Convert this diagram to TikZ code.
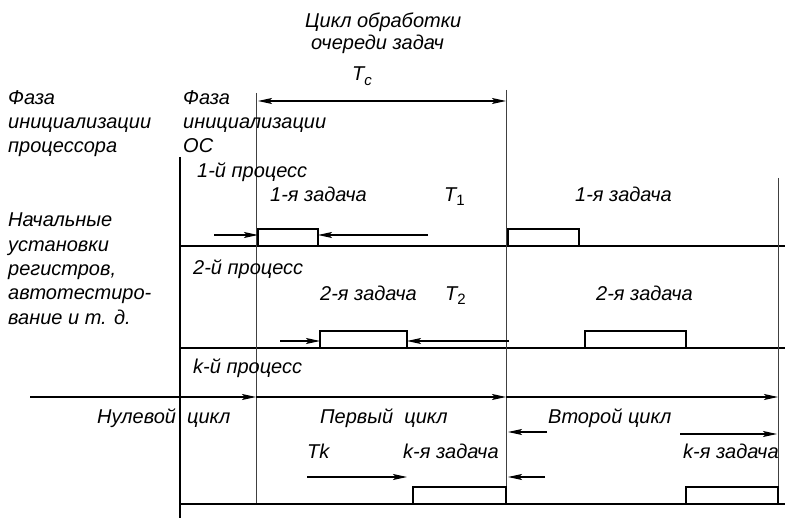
\documentclass[tikz,border=0pt]{standalone}
\usepackage{fontspec}
\setmainfont{Liberation Sans}
\usetikzlibrary{arrows.meta}
\begin{document}
\begin{tikzpicture}[x=1pt,y=-1pt,
  lbl/.style={inner sep=0pt, font=\fontsize{20}{24.3}\selectfont\itshape, anchor=base west},
  blk/.style={inner sep=0pt, font=\fontsize{20}{24.3}\selectfont\itshape, anchor=north west, align=left},
  axis/.style={line width=2.6pt},
  guide/.style={line width=0.7pt, black!75},
  taskbox/.style={draw, line width=2.6pt, inner sep=0pt, outer sep=0pt, anchor=south west, minimum height=17pt},
  tip/.tip={Stealth[length=14pt,width=6pt,inset=3pt]},
  arr/.style={line width=1.1pt, -tip},
  dblarr/.style={line width=1.1pt, tip-tip}
]
\useasboundingbox (0,0) rectangle (785,518);

% axes
\coordinate (v0t) at (180,157); \coordinate (v0b) at (180,518);
\coordinate (p1l) at (180,246); \coordinate (p1r) at (785,246);
\coordinate (p2l) at (180,348); \coordinate (p2r) at (785,348);
\coordinate (pkl) at (180,504); \coordinate (pkr) at (785,504);
\draw[axis] (v0t) -- (v0b);
\draw[axis] (p1l) -- (p1r);
\draw[axis] (p2l) -- (p2r);
\draw[axis] (pkl) -- (pkr);

% guides
\coordinate (g1t) at (256,93);  \coordinate (g1b) at (256,503);
\coordinate (g2t) at (506,90);  \coordinate (g2b) at (506,504);
\coordinate (g3t) at (778,178); \coordinate (g3b) at (778,504);
\draw[guide] (g1t) -- (g1b);
\draw[guide] (g2t) -- (g2b);
\draw[guide] (g3t) -- (g3b);

% task boxes
\node[taskbox, minimum width=60pt] (b11) at (258,246) {};
\node[taskbox, minimum width=71pt] (b12) at (508,246) {};
\node[taskbox, minimum width=87pt] (b21) at (320,348) {};
\node[taskbox, minimum width=101pt] (b22) at (585,348) {};
\node[taskbox, minimum width=93pt] (bk1) at (413,504) {};
\node[taskbox, minimum width=92pt] (bk2) at (686,504) {};

% Tc arrow
\coordinate (tca) at (258,101); \coordinate (tcb) at (506,101);
\draw[dblarr] (tca) -- (tcb);

% process 1 arrows
\coordinate (a1s) at (214,235);
\draw[arr] (a1s) -- (a1s -| b11.west);
\coordinate (a1e) at (428,235);
\draw[arr] (a1e) -- (a1e -| b11.east);
% process 2 arrows
\coordinate (a2s) at (280,341);
\draw[arr] (a2s) -- (a2s -| b21.west);
\coordinate (a2e) at (509,341);
\draw[arr] (a2e) -- (a2e -| b21.east);

% cycle line
\coordinate (c0) at (30,397); \coordinate (c1) at (256,397);
\coordinate (c2) at (506,397); \coordinate (c3) at (778,397);
\draw[arr] (c0) -- (c1);
\draw[arr] (c1) -- (c2);
\draw[arr] (c2) -- (c3);

% process k arrows
\coordinate (tks) at (307,477); \coordinate (tke) at (407,477);
\draw[arr] (tks) -- (tke);
\coordinate (l1s) at (547,432); \coordinate (l1e) at (508,432);
\draw[arr] (l1s) -- (l1e);
\coordinate (l2s) at (545,477); \coordinate (l2e) at (508,477);
\draw[arr] (l2s) -- (l2e);
\coordinate (r1s) at (680,434); \coordinate (r1e) at (777,434);
\draw[arr] (r1s) -- (r1e);

% labels
\node[lbl] (cyc1) at (305,28) {Цикл обработки};
\node[lbl] (cyc2) at (311,50) {очереди задач};
\node[lbl] (tc) at (352,81) {T\raisebox{-0.45ex}{\fontsize{15}{15}\selectfont c}};

\node[blk] (ph1) at (8,90) {Фаза\\инициализации\\процессора};
\node[blk] (ph2) at (183,90) {Фаза\\инициализации\\ОС};
\node[blk] (ini) at (8,213) {Начальные\\установки\\регистров,\\автотестиро-\\вание и т. д.};

\node[lbl] (pr1) at (197,178) {1-й процесс};
\node[lbl] (z11) at (270,202) {1-я задача};
\node[lbl] (t1) at (444,202) {T\raisebox{-0.35ex}{\fontsize{15}{15}\selectfont\upshape 1}};
\node[lbl] (z12) at (575,202) {1-я задача};

\node[lbl] (pr2) at (193,275) {2-й процесс};
\node[lbl] (z21) at (320,301) {2-я задача};
\node[lbl] (t2) at (445,301) {T\raisebox{-0.3ex}{\fontsize{15}{15}\selectfont\upshape 2}};
\node[lbl] (z22) at (596,301) {2-я задача};

\node[lbl] (prk) at (193,374) {k-й процесс};
\node[lbl] (cy0) at (97,424) {Нулевой\ \ цикл};
\node[lbl] (cy1) at (320,424) {Первый\ \ цикл};
\node[lbl] (cy2) at (548,424) {Второй цикл};
\node[lbl] (tk) at (307,459) {Tk};
\node[lbl] (zk1) at (403,459) {k-я задача};
\node[lbl] (zk2) at (683,459) {k-я задача};
\end{tikzpicture}
\end{document}
